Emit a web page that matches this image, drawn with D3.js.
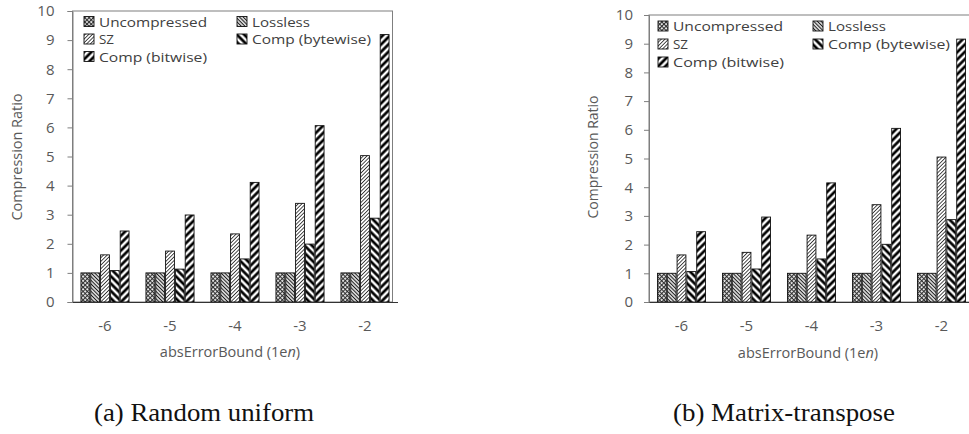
<!DOCTYPE html>
<html>
<head>
<meta charset="utf-8">
<script src="https://cdn.jsdelivr.net/npm/d3@7/dist/d3.min.js"></script>
<style>
  html, body { margin: 0; padding: 0; background: #fff; }
  svg { display: block; }
</style>
</head>
<body>
<script>
// Compression ratio per error bound, two workloads
const categories = ["-6", "-5", "-4", "-3", "-2"];
const seriesNames = ["Uncompressed", "Lossless", "SZ", "Comp (bytewise)", "Comp (bitwise)"];
const yTicks = [0, 1, 2, 3, 4, 5, 6, 7, 8, 9, 10];

// (a) Random uniform
const ruUncompressed = [1, 1, 1, 1, 1];
const ruLossless     = [1, 1, 1, 1, 1];
const ruSZ           = [1.62, 1.75, 2.34, 3.39, 5.03];
const ruBytewise     = [1.08, 1.13, 1.48, 1.99, 2.88];
const ruBitwise      = [2.44, 2.99, 4.11, 6.06, 9.19];

// (b) Matrix-transpose
const mtUncompressed = [1, 1, 1, 1, 1];
const mtLossless     = [1, 1, 1, 1, 1];
const mtSZ           = [1.64, 1.73, 2.33, 3.39, 5.05];
const mtBytewise     = [1.06, 1.15, 1.50, 2.01, 2.87];
const mtBitwise      = [2.45, 2.96, 4.15, 6.05, 9.16];

const W = 969, H = 434;
const svg = d3.select("body").append("svg").attr("width", W).attr("height", H);

// ---- fill patterns ----
const defs = svg.append("defs");
function stripes(id, spacing, width, angle, color) {
  const p = defs.append("pattern").attr("id", id)
    .attr("patternUnits", "userSpaceOnUse")
    .attr("width", spacing).attr("height", spacing)
    .attr("patternTransform", `rotate(${angle})`);
  p.append("rect").attr("width", spacing).attr("height", spacing).attr("fill", "#fff");
  p.append("line").attr("x1", spacing / 2).attr("x2", spacing / 2)
    .attr("y1", -1).attr("y2", spacing + 1)
    .attr("stroke", color).attr("stroke-width", width);
}
// fine mesh for the uncompressed baseline
(function () {
  const s = 3;
  const p = defs.append("pattern").attr("id", "pUncomp")
    .attr("patternUnits", "userSpaceOnUse").attr("width", s).attr("height", s)
    .attr("patternTransform", "rotate(45)");
  p.append("rect").attr("width", s).attr("height", s).attr("fill", "#fff");
  p.append("line").attr("x1", 0).attr("x2", s).attr("y1", 0.6).attr("y2", 0.6)
    .attr("stroke", "#2a2a2a").attr("stroke-width", 1.1);
  p.append("line").attr("x1", 0.6).attr("x2", 0.6).attr("y1", 0).attr("y2", s)
    .attr("stroke", "#2a2a2a").attr("stroke-width", 1.1);
})();
stripes("pLossless", 2.6, 1.2, -45, "#1a1a1a");
stripes("pSZ", 2.6, 0.9, 45, "#333");
stripes("pByte", 5.2, 2.7, -45, "#000");
stripes("pBit", 5.2, 2.7, 45, "#000");
const fills = ["url(#pUncomp)", "url(#pLossless)", "url(#pSZ)", "url(#pByte)", "url(#pBit)"];

const labelFont = "'Open Sans', 'DejaVu Sans', sans-serif";
const textGray = "#595959";

function drawPanel(cfg) {
  const g = svg.append("g");
  const x0 = d3.scaleBand().domain(categories)
    .range([cfg.left, cfg.left + cfg.span])
    .paddingInner(0.26).paddingOuter(0.13);
  const x1 = d3.scaleBand().domain(seriesNames)
    .range([0, x0.bandwidth()]).paddingInner(0.1);
  const y = d3.scaleLinear().domain([0, 10]).range([cfg.bottom, cfg.top]);

  // plot frame
  g.append("rect")
    .attr("x", cfg.left).attr("y", cfg.top)
    .attr("width", cfg.frameRight - cfg.left).attr("height", cfg.bottom - cfg.top)
    .attr("fill", "none").attr("stroke", "#7f7f7f").attr("stroke-width", 1);

  // y axis
  const ya = g.append("g").attr("transform", `translate(${cfg.left},0)`)
    .call(d3.axisLeft(y).tickValues(yTicks).tickSize(5).tickPadding(cfg.tickPad)
      .tickFormat(d3.format("d")));
  ya.select(".domain").attr("stroke", "#7f7f7f");
  ya.selectAll(".tick line").attr("stroke", "#7f7f7f");
  ya.selectAll("text").attr("font-family", labelFont).attr("font-size", 15)
    .attr("fill", textGray);

  // bars
  const values = cfg.values;
  const grp = g.selectAll(".grp").data(categories).enter().append("g")
    .attr("transform", d => `translate(${x0(d)},0)`);
  grp.selectAll("rect")
    .data((c, ci) => seriesNames.map((s, si) => ({ s, si, v: values[si][ci] })))
    .enter().append("rect")
    .attr("x", d => x1(d.s))
    .attr("width", x1.bandwidth())
    .attr("y", d => y(d.v))
    .attr("height", d => y(0) - y(d.v))
    .attr("fill", d => fills[d.si])
    .attr("stroke", "#111").attr("stroke-width", 0.9);

  // x axis
  const xa = g.append("g").attr("transform", `translate(0,${cfg.bottom})`)
    .call(d3.axisBottom(x0).tickSize(0).tickPadding(18));
  xa.select(".domain").attr("stroke", "#333").attr("stroke-width", 1.2);
  xa.selectAll("text").attr("font-family", labelFont).attr("font-size", 15)
    .attr("fill", textGray);

  // axis titles
  g.append("text")
    .attr("transform", `translate(${cfg.yTitleX},${cfg.yTitleY}) rotate(-90)`)
    .attr("text-anchor", "middle")
    .attr("font-family", labelFont).attr("font-size", 14.5).attr("fill", textGray)
    .attr("textLength", cfg.yTitleLen).attr("lengthAdjust", "spacingAndGlyphs")
    .text("Compression Ratio");

  const xt = g.append("text")
    .attr("x", cfg.xTitleX).attr("y", cfg.xTitleY)
    .attr("text-anchor", "middle")
    .attr("font-family", labelFont).attr("font-size", 14.5).attr("fill", textGray);
  xt.append("tspan").text("absErrorBound (1e");
  xt.append("tspan").attr("font-style", "italic").text("n");
  xt.append("tspan").text(")");

  // legend
  const leg = g.append("g");
  seriesNames.forEach((name, i) => {
    const col = i % 2, row = Math.floor(i / 2);
    const lx = col === 0 ? cfg.legX0 : cfg.legX1;
    const ly = cfg.legY + row * cfg.legRow;
    leg.append("rect")
      .attr("x", lx).attr("y", ly - 5).attr("width", 10).attr("height", 10)
      .attr("fill", fills[i]).attr("stroke", "#111").attr("stroke-width", 0.9);
    leg.append("text")
      .attr("x", lx + 15).attr("y", ly + 5)
      .attr("font-family", labelFont).attr("font-size", 13).attr("fill", "#404040")
      .attr("textLength", cfg.legLens[i]).attr("lengthAdjust", "spacingAndGlyphs")
      .text(name);
  });

  // caption
  svg.append("text")
    .attr("x", cfg.capX).attr("y", 421)
    .attr("text-anchor", "middle")
    .attr("font-family", "'Liberation Serif', 'Times New Roman', serif")
    .attr("font-size", 26).attr("fill", "#111")
    .attr("textLength", cfg.capLen).attr("lengthAdjust", "spacingAndGlyphs")
    .text(cfg.caption);
}

drawPanel({
  left: 72.5, span: 325, frameRight: 392.5, top: 11, bottom: 302, tickPad: 13,
  values: [ruUncompressed, ruLossless, ruSZ, ruBytewise, ruBitwise],
  yTitleX: 22, yTitleY: 157, yTitleLen: 127,
  xTitleX: 230, xTitleY: 357,
  legX0: 84, legX1: 237, legY: 21.5, legRow: 17.5,
  legLens: [108, 58, 15, 119, 108],
  capX: 204, capLen: 220, caption: "(a) Random uniform"
});

drawPanel({
  left: 649, span: 325, frameRight: 972, top: 15, bottom: 302, tickPad: 11,
  values: [mtUncompressed, mtLossless, mtSZ, mtBytewise, mtBitwise],
  yTitleX: 598, yTitleY: 157, yTitleLen: 123,
  xTitleX: 808, xTitleY: 358,
  legX0: 658, legX1: 813, legY: 26, legRow: 18,
  legLens: [110, 58, 15, 122, 111],
  capX: 784, capLen: 222, caption: "(b) Matrix-transpose"
});
</script>
</body>
</html>
